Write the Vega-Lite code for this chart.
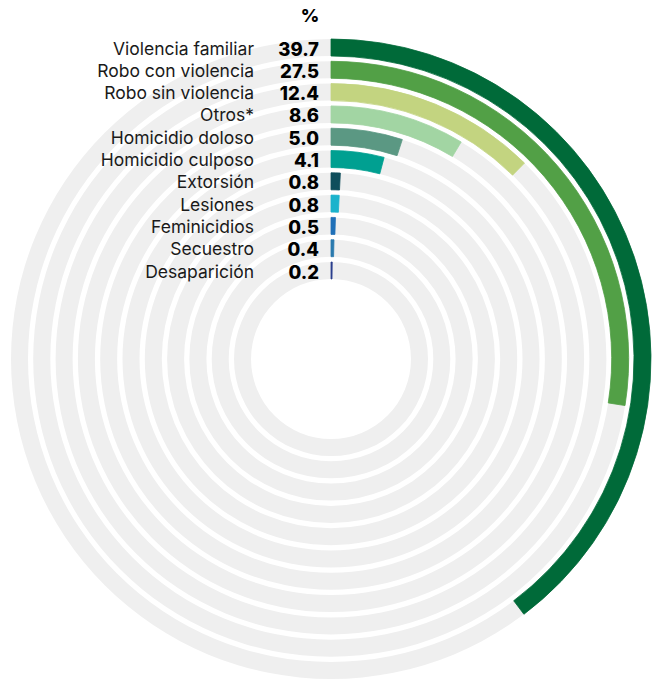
{
  "$schema": "https://vega.github.io/schema/vega-lite/v6.json",
  "width": 646,
  "height": 638,
  "autosize": "none",
  "padding": {"left": 8, "top": 40, "right": 0, "bottom": 1},
  "background": "white",
  "config": {"view": {"stroke": null}},
  "data": {
    "values": [
      {"cat": "Violencia familiar", "value": 39.7},
      {"cat": "Robo con violencia", "value": 27.5},
      {"cat": "Robo sin violencia", "value": 12.4},
      {"cat": "Otros*", "value": 8.6},
      {"cat": "Homicidio doloso", "value": 5.0},
      {"cat": "Homicidio culposo", "value": 4.1},
      {"cat": "Extorsión", "value": 0.8},
      {"cat": "Lesiones", "value": 0.8},
      {"cat": "Feminicidios", "value": 0.5},
      {"cat": "Secuestro", "value": 0.4},
      {"cat": "Desaparición", "value": 0.2}
    ]
  },
  "transform": [
    {"window": [{"op": "row_number", "as": "idx"}]},
    {"calculate": "11 - datum.idx", "as": "r0"},
    {"calculate": "datum.r0 + 0.762", "as": "r1"},
    {"calculate": "datum.r0 + 0.381", "as": "rm"}
  ],
  "layer": [
    {
      "mark": {"type": "arc", "color": "#efefef"},
      "encoding": {
        "theta": {"datum": 100, "type": "quantitative", "scale": {"domain": [0, 100]}},
        "radius": {"field": "r0", "type": "quantitative", "scale": {"type": "linear", "domain": [0, 11], "range": [80, 325.3], "zero": false}},
        "radius2": {"field": "r1"}
      }
    },
    {
      "mark": {"type": "arc", "strokeWidth": 0.8},
      "encoding": {
        "theta": {"field": "value", "type": "quantitative", "stack": null},
        "radius": {"field": "r0", "type": "quantitative"},
        "radius2": {"field": "r1"},
        "color": {
          "field": "cat",
          "type": "nominal",
          "legend": null,
          "scale": {
            "domain": ["Violencia familiar", "Robo con violencia", "Robo sin violencia", "Otros*", "Homicidio doloso", "Homicidio culposo", "Extorsión", "Lesiones", "Feminicidios", "Secuestro", "Desaparición"],
            "range": ["#006a39", "#52a046", "#c3d480", "#a2d5a3", "#5b9883", "#00a091", "#0f4e5c", "#1bb3cc", "#1f70b8", "#2a7aae", "#2b3f8e"]
          }
        },
        "stroke": {
          "field": "cat",
          "type": "nominal",
          "legend": null,
          "scale": {
            "domain": ["Violencia familiar", "Robo con violencia", "Robo sin violencia", "Otros*", "Homicidio doloso", "Homicidio culposo", "Extorsión", "Lesiones", "Feminicidios", "Secuestro", "Desaparición"],
            "range": ["#006a39", "#52a046", "#c3d480", "#a2d5a3", "#5b9883", "#00a091", "#0f4e5c", "#1bb3cc", "#1f70b8", "#2a7aae", "#2b3f8e"]
          }
        }
      }
    },
    {
      "mark": {"type": "text", "align": "right", "baseline": "middle", "dx": -77, "dy": 2, "font": "Inter", "fontSize": 17.5, "color": "#1a1a1a"},
      "encoding": {
        "theta": {"datum": 0, "type": "quantitative"},
        "radius": {"field": "rm", "type": "quantitative"},
        "text": {"field": "cat"}
      }
    },
    {
      "mark": {"type": "text", "align": "right", "baseline": "middle", "dx": -12, "dy": 2, "font": "Inter", "fontSize": 18.5, "fontWeight": 800, "color": "#000000"},
      "encoding": {
        "theta": {"datum": 0, "type": "quantitative"},
        "radius": {"field": "rm", "type": "quantitative"},
        "text": {"field": "value", "type": "quantitative", "format": ".1f"}
      }
    },
    {
      "data": {"values": [{"h": "%"}]},
      "mark": {"type": "text", "align": "center", "baseline": "middle", "dx": -21, "font": "Inter", "fontSize": 18, "fontWeight": 800, "color": "#000000"},
      "encoding": {
        "theta": {"datum": 0, "type": "quantitative"},
        "radius": {"datum": 11.75, "type": "quantitative"},
        "text": {"field": "h"}
      }
    }
  ]
}
